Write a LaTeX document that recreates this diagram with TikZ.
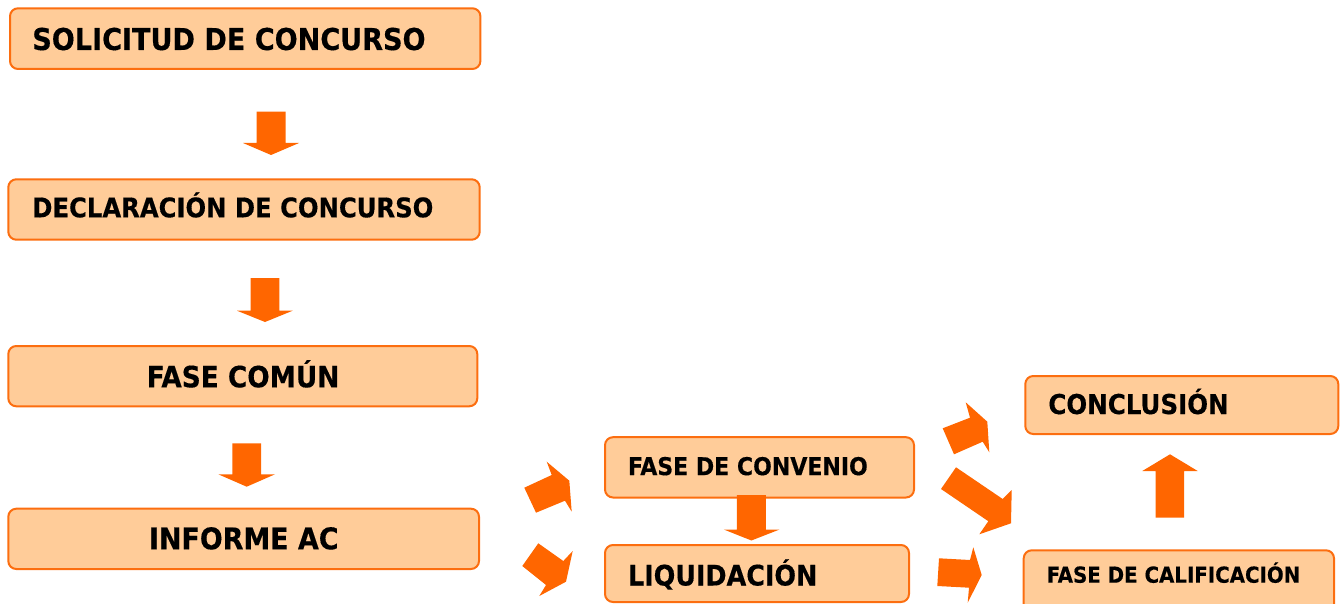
\documentclass[tikz,border=0pt]{standalone}
\usepackage{fontspec}
\setmainfont{DejaVu Sans Condensed}[BoldFeatures={FakeBold=0.35}]
\definecolor{boxfill}{RGB}{255,204,153}
\definecolor{boxline}{RGB}{252,110,16}
\definecolor{arrowc}{RGB}{255,102,0}
\tikzset{
  box/.style={draw=boxline, fill=boxfill, line width=2pt, rounded corners=8pt,
    anchor=north west, inner sep=0pt, outer sep=0pt},
  lbl/.style={anchor=base west, inner sep=0pt, outer sep=0pt, font=\bfseries},
  blk/.style={fill=arrowc, draw=none}
}
\newcommand\fs[1]{\fontsize{#1}{#1}\selectfont}
\begin{document}
\begin{tikzpicture}[x=1pt,y=-1pt]
\useasboundingbox (0,0) rectangle (1340,604);
\clip (0,0) rectangle (1340,604);
% boxes
\node[box, minimum width=470.4pt, minimum height=60.7pt] (solicitud) at (10,8.3) {};
\node[box, minimum width=471.4pt, minimum height=60.4pt] (declaracion) at (8.3,179.3) {};
\node[box, minimum width=469pt, minimum height=60.3pt] (fasecomun) at (8.3,346) {};
\node[box, minimum width=470.7pt, minimum height=60.3pt] (informe) at (8.3,508.7) {};
\node[box, minimum width=309pt, minimum height=60.3pt] (convenio) at (605,437.2) {};
\node[box, minimum width=304pt, minimum height=57pt] (liquidacion) at (605,545) {};
\node[box, minimum width=313pt, minimum height=58pt] (conclusion) at (1025.3,376) {};
\node[box, minimum width=310.3pt, minimum height=66pt] (calificacion) at (1023.7,550.3) {};
% labels
\node[lbl, font=\bfseries\fs{30.1}] (solicitudtxt) at (32.3,50) {SOLICITUD DE CONCURSO};
\node[lbl, font=\bfseries\fs{27}] (declaraciontxt) at (32.3,217.3) {DECLARACIÓN DE CONCURSO};
\node[lbl, font=\bfseries\fs{29.3}] (fasecomuntxt) at (146.7,387.3) {FASE COMÚN};
\node[lbl, font=\bfseries\fs{29.9}] (informetxt) at (149,549.3) {INFORME AC};
\node[lbl, font=\bfseries\fs{24.5}] (conveniotxt) at (628,475.1) {FASE DE CONVENIO};
\node[lbl, font=\bfseries\fs{28.3}] (liquidaciontxt) at (628,585.5) {LIQUIDACIÓN};
\node[lbl, font=\bfseries\fs{27.3}] (conclusiontxt) at (1048.3,414) {CONCLUSIÓN};
\node[lbl, font=\bfseries\fs{22}] (calificaciontxt) at (1046.7,582.7) {FASE DE CALIFICACIÓN};
% block arrows
\fill[blk] (256.7,111.7) -- (285.7,111.7) -- (285.7,143) -- (299,143) -- (271,155) -- (243,143) -- (256.7,143) -- cycle;
\fill[blk] (250.7,278) -- (279.3,278) -- (279.3,310.7) -- (292.7,310.7) -- (265,322) -- (237,310.7) -- (250.7,310.7) -- cycle;
\fill[blk] (232.3,443.3) -- (261,443.3) -- (261,474.3) -- (275,474.3) -- (246.7,486.7) -- (218.3,474.3) -- (232.3,474.3) -- cycle;
\fill[blk] (736.9,495) -- (765.8,495) -- (765.8,529.5) -- (779.6,529.5) -- (751.4,540.5) -- (723.8,529.5) -- (736.9,529.5) -- cycle;
\fill[blk] (1155.7,517.7) -- (1184,517.7) -- (1184,471) -- (1197.7,471) -- (1170,454.3) -- (1142.3,471) -- (1155.7,471) -- cycle;
\fill[blk] (524.3,487.7) -- (551.7,475) -- (546.7,461.7) -- (569.3,480.7) -- (571.7,511.7) -- (565,500.7) -- (536,512.7) -- cycle;
\fill[blk] (522.3,566) -- (538.3,543.3) -- (563.3,561) -- (572.7,551) -- (566,581.7) -- (539.3,596) -- (546,585) -- cycle;
\fill[blk] (942.7,428.3) -- (970,417.7) -- (965.7,402.3) -- (987.3,421.7) -- (989.3,452.3) -- (982.7,441.7) -- (954,454.3) -- cycle;
\fill[blk] (941,489) -- (956,467.3) -- (1002.7,499) -- (1011.7,490) -- (1011,523.3) -- (979.3,534.3) -- (988.3,521.2) -- cycle;
\fill[blk] (939,558.3) -- (970,560) -- (973.3,547.3) -- (981.7,575) -- (967.7,602.7) -- (969,587.7) -- (937.3,586) -- cycle;
\end{tikzpicture}
\end{document}
